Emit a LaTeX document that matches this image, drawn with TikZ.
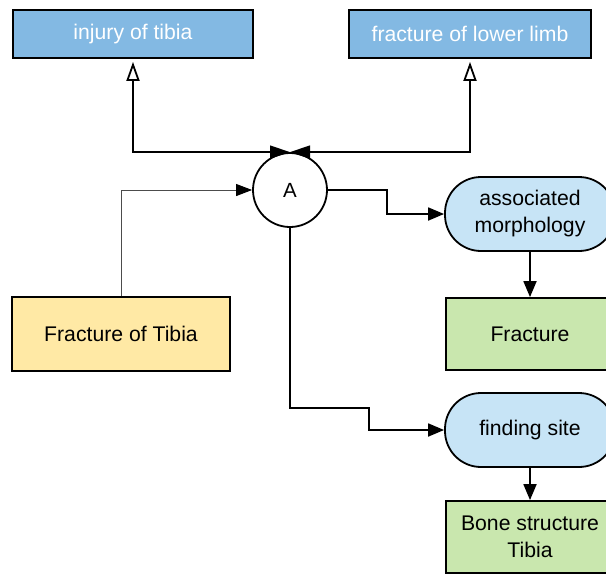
\documentclass[tikz,border=0pt]{standalone}
\usepackage{fontspec}
\setmainfont{Liberation Sans}
\usetikzlibrary{arrows.meta}
\definecolor{topblue}{HTML}{83B9E3}
\definecolor{paleblue}{HTML}{C7E4F6}
\definecolor{palegreen}{HTML}{C9E7AE}
\definecolor{paleyellow}{HTML}{FFE9A5}
\tikzset{
  box/.style={draw=black, line width=1.8pt, minimum height=#1, inner sep=2pt, align=center,
    font=\fontsize{21.2}{27}\selectfont},
  box/.default=48pt,
  concept/.style={box, fill=topblue, text=white},
  relation/.style={box=74pt, fill=paleblue, rounded corners=36pt, minimum width=170pt},
  target/.style={box=72pt, fill=palegreen, minimum width=168pt},
  source/.style={box=74pt, fill=paleyellow, minimum width=218pt},
  hub/.style={draw=black, line width=1.8pt, circle, fill=white, minimum size=74pt,
    inner sep=0pt, font=\fontsize{20.5}{22}\selectfont},
  link/.style={line width=1.8pt, -{Triangle[length=16pt,width=13pt]}},
  isa/.style={line width=1.8pt, shorten >=3pt,
    {Triangle[length=20pt,width=13pt]}-{Triangle[open,length=19pt,width=13pt,line width=1.8pt]}},
  feed/.style={line width=1pt, draw=black!70, -{Triangle[length=16pt,width=12pt,color=black]}}
}
\begin{document}
\begin{tikzpicture}[x=1pt,y=-1pt]
  \useasboundingbox (0,0) rectangle (606,574);
  \clip (0,0) rectangle (606,574);

  \node[concept, minimum width=240pt] (inj) at (133,34) {injury of tibia};
  \node[concept, minimum width=242pt] (flimb) at (470,34) {fracture of lower limb};

  \node[hub] (A) at (290,190) {A};

  \node[source] (ft) at (121,334) {Fracture of Tibia};

  \node[relation] (am) at (530,214) {associated\\morphology};
  \node[target] (fr) at (530,334) {Fracture};

  \node[relation] (fs) at (530,430) {finding site};
  \node[target] (bone) at (530,537) {Bone structure\\Tibia};

  % parents of the concept
  \draw[isa] (A.north) -| (inj.south);
  \draw[isa] (A.north) -| (flimb.south);

  % source concept into the hub
  \draw[feed] (ft.north) |- (A.west);

  % attribute groups
  \draw[link] (A.east) -- ++(59,0) |- (am.west);
  \draw[link] (A.south) -- ++(0,180) -- ++(79,0) |- (fs.west);

  % attribute values
  \draw[link] (am.south) -- (fr.north);
  \draw[link] (fs.south) -- (bone.north);
\end{tikzpicture}
\end{document}
